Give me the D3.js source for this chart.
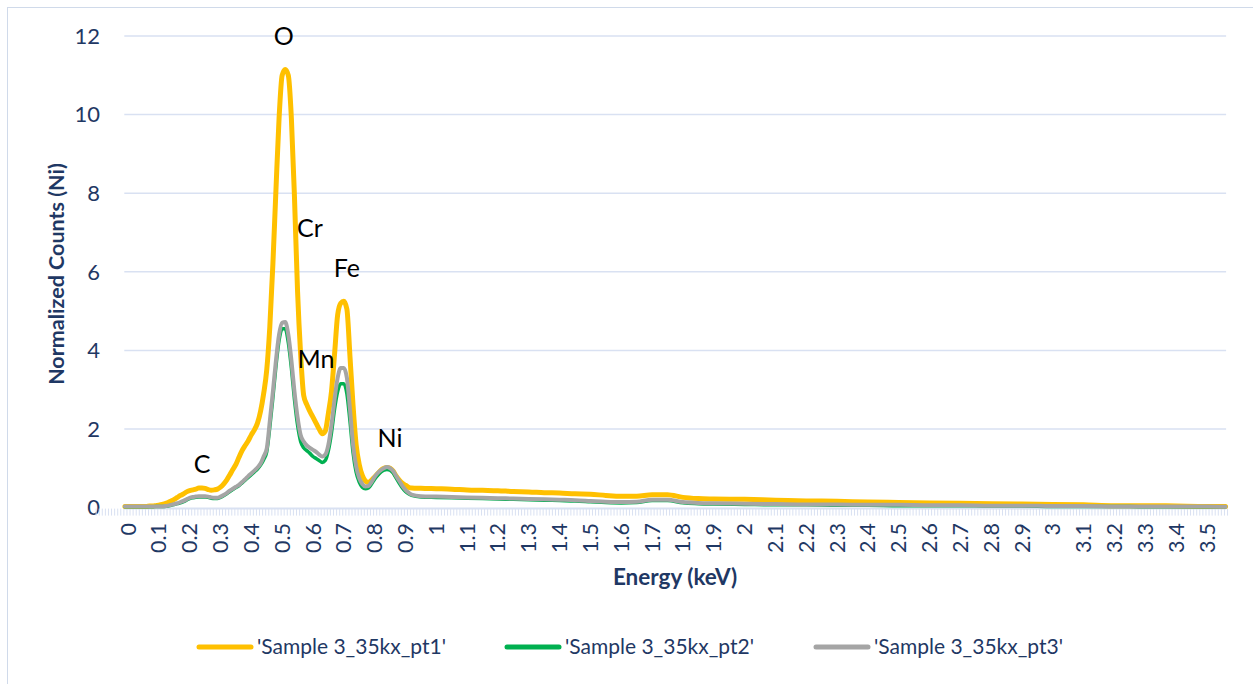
<!DOCTYPE html>
<html>
<head>
<meta charset="utf-8">
<script src="https://cdn.jsdelivr.net/npm/d3@7"></script>
<style>
  html, body { margin: 0; padding: 0; background: #ffffff; }
  svg { display: block; font-family: Lato, "Open Sans", sans-serif; }
</style>
</head>
<body>
<svg id="chart" width="1253" height="684"></svg>
<script>
// EDS spectra: energy (keV) and normalized counts for three spots
const energyKeV = [
  -0.01, 0.00, 0.01, 0.02, 0.03, 0.04, 0.05, 0.06, 0.07, 0.08, 0.09,
  0.10, 0.11, 0.12, 0.13, 0.14, 0.15, 0.16, 0.17, 0.18, 0.19,
  0.20, 0.21, 0.22, 0.23, 0.24, 0.25, 0.26, 0.27, 0.28, 0.29,
  0.30, 0.31, 0.32, 0.33, 0.34, 0.35, 0.36, 0.37, 0.38, 0.39,
  0.40, 0.41, 0.42, 0.43, 0.44, 0.45, 0.46, 0.47, 0.48, 0.49,
  0.50, 0.51, 0.52, 0.53, 0.54, 0.55, 0.56, 0.57, 0.58, 0.59,
  0.60, 0.61, 0.62, 0.63, 0.64, 0.65, 0.66, 0.67, 0.68, 0.69,
  0.70, 0.71, 0.72, 0.73, 0.74, 0.75, 0.76, 0.77, 0.78, 0.79,
  0.80, 0.81, 0.82, 0.83, 0.84, 0.85, 0.86, 0.87, 0.88, 0.89,
  0.90, 0.91, 0.92,
  0.95, 1.00, 1.05, 1.10, 1.15, 1.20, 1.25, 1.30, 1.35, 1.40,
  1.45, 1.50, 1.55, 1.60, 1.65, 1.70, 1.75, 1.80, 1.85, 1.90,
  2.0, 2.1, 2.2, 2.3, 2.4, 2.5, 2.6, 2.7, 2.8, 2.9,
  3.0, 3.1, 3.2, 3.3, 3.4, 3.5, 3.56
];

const pt1 = [
  0.03, 0.03, 0.03, 0.03, 0.03, 0.03, 0.03, 0.03, 0.04, 0.04, 0.05,
  0.06, 0.08, 0.10, 0.13, 0.17, 0.21, 0.26, 0.31, 0.35, 0.40,
  0.43, 0.45, 0.47, 0.50, 0.50, 0.49, 0.46, 0.44, 0.45, 0.47,
  0.52, 0.60, 0.70, 0.83, 0.97, 1.10, 1.28, 1.45, 1.58, 1.70,
  1.85, 1.98, 2.15, 2.45, 2.90, 3.50, 4.60, 6.20, 8.10, 9.90,
  11.00, 11.15, 11.00, 9.90, 7.90, 5.50, 3.90, 2.85, 2.62, 2.45,
  2.30, 2.15, 2.00, 1.88, 1.95, 2.40, 2.95, 3.90, 4.90, 5.20,
  5.25, 5.05, 3.85, 2.60, 1.60, 1.10, 0.82, 0.68, 0.64, 0.70,
  0.78, 0.86, 0.95, 1.00, 1.02, 1.00, 0.93, 0.80, 0.70, 0.62,
  0.57, 0.52, 0.50,
  0.49, 0.48, 0.47, 0.45, 0.44, 0.43, 0.41, 0.40, 0.38, 0.37,
  0.35, 0.34, 0.31, 0.29, 0.29, 0.33, 0.33, 0.26, 0.23, 0.22,
  0.21, 0.19, 0.17, 0.16, 0.14, 0.13, 0.12, 0.11, 0.10, 0.09,
  0.08, 0.07, 0.05, 0.05, 0.04, 0.03, 0.03
];

const pt2 = [
  0.02, 0.02, 0.02, 0.02, 0.02, 0.02, 0.02, 0.02, 0.02, 0.02, 0.03,
  0.03, 0.03, 0.03, 0.04, 0.06, 0.08, 0.10, 0.12, 0.15, 0.19,
  0.23, 0.25, 0.26, 0.27, 0.27, 0.27, 0.26, 0.24, 0.23, 0.23,
  0.26, 0.30, 0.35, 0.41, 0.46, 0.51, 0.56, 0.63, 0.70, 0.77,
  0.84, 0.91, 0.98, 1.08, 1.22, 1.42, 2.05, 2.80, 3.60, 4.25,
  4.55, 4.55, 4.20, 3.55, 2.75, 2.10, 1.68, 1.52, 1.45, 1.38,
  1.30, 1.25, 1.20, 1.15, 1.20, 1.45, 1.90, 2.50, 2.95, 3.15,
  3.15, 2.90, 2.20, 1.40, 0.90, 0.65, 0.52, 0.48, 0.50, 0.60,
  0.72, 0.82, 0.90, 0.95, 0.97, 0.95, 0.88, 0.75, 0.62, 0.50,
  0.41, 0.35, 0.31,
  0.27, 0.26, 0.25, 0.24, 0.23, 0.22, 0.21, 0.20, 0.19, 0.18,
  0.17, 0.15, 0.13, 0.12, 0.13, 0.18, 0.18, 0.12, 0.10, 0.09,
  0.08, 0.07, 0.07, 0.06, 0.06, 0.05, 0.05, 0.05, 0.04, 0.04,
  0.03, 0.03, 0.03, 0.02, 0.02, 0.02, 0.02
];

const pt3 = [
  0.03, 0.03, 0.03, 0.03, 0.03, 0.03, 0.03, 0.03, 0.03, 0.03, 0.03,
  0.03, 0.03, 0.04, 0.05, 0.07, 0.09, 0.11, 0.14, 0.17, 0.21,
  0.25, 0.27, 0.28, 0.29, 0.29, 0.29, 0.28, 0.26, 0.25, 0.25,
  0.28, 0.32, 0.37, 0.43, 0.48, 0.53, 0.58, 0.65, 0.72, 0.80,
  0.87, 0.94, 1.02, 1.12, 1.30, 1.50, 2.20, 2.95, 3.75, 4.40,
  4.70, 4.72, 4.40, 3.75, 2.95, 2.30, 1.85, 1.68, 1.58, 1.52,
  1.47, 1.42, 1.35, 1.30, 1.35, 1.60, 2.10, 2.75, 3.30, 3.55,
  3.55, 3.30, 2.50, 1.60, 1.05, 0.75, 0.60, 0.54, 0.55, 0.65,
  0.78, 0.88, 0.95, 1.00, 1.03, 1.00, 0.93, 0.80, 0.68, 0.55,
  0.45, 0.38, 0.33,
  0.29, 0.28, 0.27, 0.26, 0.25, 0.24, 0.23, 0.22, 0.21, 0.20,
  0.19, 0.17, 0.15, 0.14, 0.15, 0.20, 0.20, 0.14, 0.12, 0.11,
  0.10, 0.09, 0.08, 0.08, 0.07, 0.07, 0.06, 0.06, 0.05, 0.05,
  0.04, 0.04, 0.03, 0.03, 0.03, 0.03, 0.02
];

const seriesNames = ["'Sample 3_35kx_pt1'", "'Sample 3_35kx_pt2'", "'Sample 3_35kx_pt3'"];
const seriesColors = ["#FFC000", "#00B050", "#A5A5A5"];
const yTicks = [0, 2, 4, 6, 8, 10, 12];
const xLabelTicks = [0, 0.1, 0.2, 0.3, 0.4, 0.5, 0.6, 0.7, 0.8, 0.9, 1, 1.1, 1.2, 1.3, 1.4, 1.5, 1.6, 1.7,
  1.8, 1.9, 2, 2.1, 2.2, 2.3, 2.4, 2.5, 2.6, 2.7, 2.8, 2.9, 3, 3.1, 3.2, 3.3, 3.4, 3.5];
const peakLabels = ["O", "Cr", "Fe", "Mn", "Ni", "C"];
const peakEnergy = [0.505, 0.59, 0.71, 0.61, 0.85, 0.24];
const peakLevel = [11.77, 6.88, 5.87, 3.55, 1.54, 0.88];

const svg = d3.select("#chart");
const textColor = "#1F3864";
const gridColor = "#D9E1F2";

// frame
svg.append("rect")
  .attr("x", 7.5).attr("y", 7.5)
  .attr("width", 1260).attr("height", 690)
  .attr("fill", "none").attr("stroke", "#D0DAEA").attr("stroke-width", 1);

const x = d3.scaleLinear().domain([0, 3.5]).range([128, 1207]);
const y = d3.scaleLinear().domain([0, 12]).range([507.6, 36]);
const plotLeft = x(-0.012), plotRight = x(3.562);

// horizontal gridlines
svg.append("g").selectAll("line").data(yTicks.filter(d => d > 0)).join("line")
  .attr("x1", plotLeft).attr("x2", plotRight)
  .attr("y1", d => y(d)).attr("y2", d => y(d))
  .attr("stroke", gridColor).attr("stroke-width", 1.5);

// y tick labels
svg.append("g").selectAll("text").data(yTicks).join("text")
  .attr("x", 100).attr("y", d => y(d)).attr("dy", "0.35em")
  .attr("text-anchor", "end").attr("fill", textColor)
  .style("font-size", "22px").text(d => d);

// x axis: line and fine category ticks every 0.01 keV
const minorTicks = d3.range(-11, 357).map(i => (i + 0.5) / 100);
const xMinor = d3.axisBottom(x).tickValues(minorTicks).tickSize(7).tickFormat("");
const gx = svg.append("g").attr("transform", `translate(0,${y(0) + 1})`).call(xMinor);
gx.select(".domain").attr("stroke", gridColor).attr("stroke-width", 2)
  .attr("d", `M${plotLeft},0H${plotRight}`);
gx.selectAll(".tick line").attr("stroke", gridColor).attr("stroke-width", 1);

// x tick labels, rotated
const fmt = d => String(+d.toFixed(1));
svg.append("g").selectAll("text").data(xLabelTicks).join("text")
  .attr("transform", d => `translate(${x(d)},523) rotate(-90)`)
  .attr("dy", "0.35em").attr("text-anchor", "end")
  .attr("fill", textColor).style("font-size", "21.5px")
  .text(fmt);

// axis titles
svg.append("text").attr("x", 675).attr("y", 585)
  .attr("text-anchor", "middle").attr("fill", textColor)
  .style("font-size", "22.5px").style("font-weight", "bold")
  .text("Energy (keV)");
svg.append("text").attr("transform", "translate(64,274) rotate(-90)")
  .attr("text-anchor", "middle").attr("fill", textColor)
  .style("font-size", "21.5px").style("font-weight", "bold")
  .text("Normalized Counts (Ni)");

// spectra
const series = [pt1, pt2, pt3];
const widths = [5, 3.5, 4];
const line = d3.line()
  .x((d, i) => x(energyKeV[i]))
  .y(d => y(d))
  .curve(d3.curveMonotoneX);
series.forEach((vals, k) => {
  svg.append("path").datum(vals)
    .attr("d", line)
    .attr("fill", "none")
    .attr("stroke", seriesColors[k])
    .attr("stroke-width", widths[k])
    .attr("stroke-linejoin", "round")
    .attr("stroke-linecap", "round");
});

// element labels
svg.append("g").selectAll("text").data(peakLabels).join("text")
  .attr("x", (d, i) => x(peakEnergy[i]))
  .attr("y", (d, i) => y(peakLevel[i]))
  .attr("text-anchor", "middle").attr("fill", "#000000")
  .style("font-size", "25px").text(d => d);

// legend
const legendX = [199, 507, 816];
const lg = svg.append("g");
seriesNames.forEach((name, k) => {
  lg.append("line")
    .attr("x1", legendX[k]).attr("x2", legendX[k] + 52)
    .attr("y1", 647).attr("y2", 647)
    .attr("stroke", seriesColors[k]).attr("stroke-width", 5)
    .attr("stroke-linecap", "round");
  lg.append("text")
    .attr("x", legendX[k] + 58).attr("y", 647).attr("dy", "0.35em")
    .attr("fill", textColor).style("font-size", "21px")
    .text(name);
});
</script>
</body>
</html>
